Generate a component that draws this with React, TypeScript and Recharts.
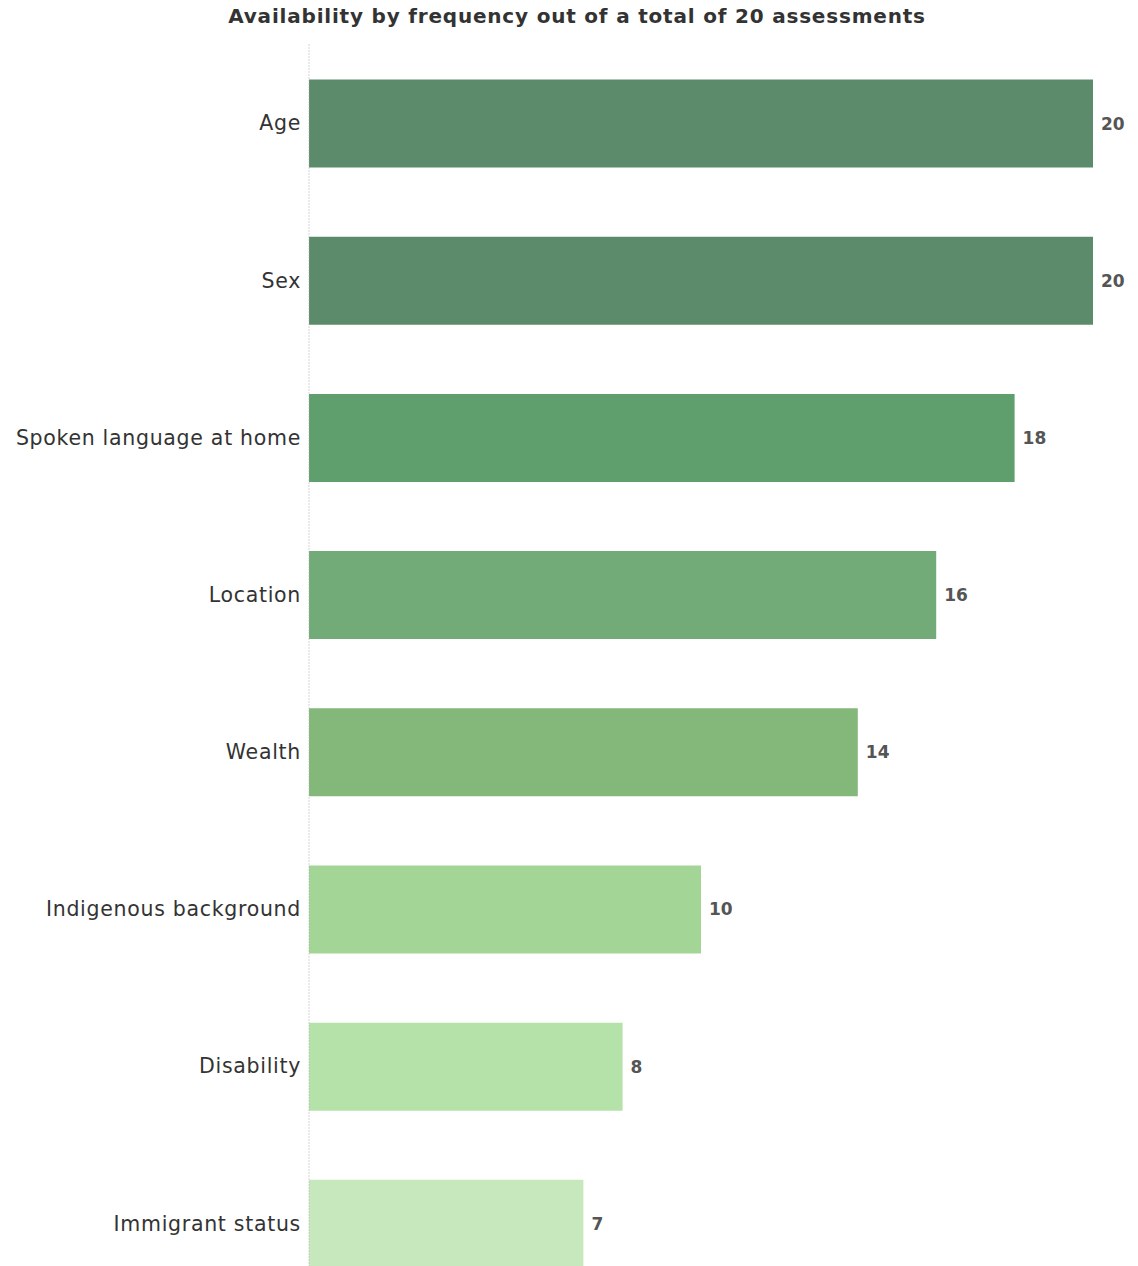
import React from "react";
import { BarChart, Bar, XAxis, YAxis, Cell, LabelList } from "recharts";

const categories = [
  "Age",
  "Sex",
  "Spoken language at home",
  "Location",
  "Wealth",
  "Indigenous background",
  "Disability",
  "Immigrant status",
];
const values = [20, 20, 18, 16, 14, 10, 8, 7];
const colors = [
  "#5b8b6b",
  "#5b8b6b",
  "#5f9e6d",
  "#72ab77",
  "#84b87b",
  "#a3d596",
  "#b5e2a8",
  "#c7e8bd",
];
const title = "Availability by frequency out of a total of 20 assessments";

const data = categories.map((c, i) => ({ name: c, value: values[i] }));

export default function App() {
  return (
    <div style={{ position: "relative", width: 1130, height: 1300 }}>
      <div
        style={{
          position: "absolute",
          top: -4,
          left: 4,
          width: 1130,
          textAlign: "center",
          fontFamily: "'DejaVu Sans', Verdana, sans-serif",
          fontWeight: "bold",
          fontSize: 20,
          letterSpacing: 0.8,
          lineHeight: "24px",
          color: "#333",
        }}
      >
        {title}
      </div>
      <BarChart
        width={1130}
        height={1299}
        data={data}
        layout="vertical"
        margin={{ top: 36.5, right: 45, bottom: 5, left: 0 }}
      >
        <XAxis type="number" domain={[0, 20]} hide />
        <YAxis
          type="category"
          dataKey="name"
          width={301}
          axisLine={{ stroke: "#aaa", strokeDasharray: "1 2" }}
          tickLine={false}
          tickMargin={2}
          tick={{
            fontSize: 20.5,
            fill: "#333",
            letterSpacing: 0.7,
            fontFamily: "'DejaVu Sans', Verdana, sans-serif",
          }}
        />
        <Bar dataKey="value" barSize={88} isAnimationActive={false}>
          {data.map((d, i) => (
            <Cell key={d.name} fill={colors[i]} />
          ))}
          <LabelList
            dataKey="value"
            position="right"
            offset={8}
            style={{
              fontSize: 17,
              fontWeight: "bold",
              fill: "#555",
              fontFamily: "'DejaVu Sans', Verdana, sans-serif",
            }}
          />
        </Bar>
      </BarChart>
    </div>
  );
}
